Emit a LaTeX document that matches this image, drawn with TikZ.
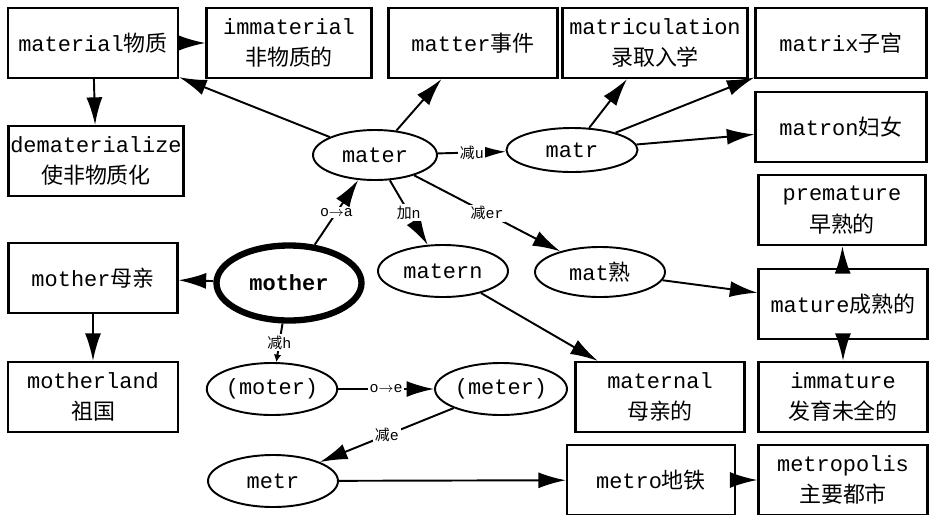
\documentclass[tikz,border=0pt]{standalone}
\usepackage{fontspec}
\setmonofont{Liberation Mono}
\newfontfamily\cjk{Noto Sans CJK SC}
\usetikzlibrary{shapes.geometric,arrows.meta}
\newcommand{\zh}[1]{{\cjk #1}}

\begin{document}
\begin{tikzpicture}[x=0.2mm,y=-0.2mm,
    font=\ttfamily\fontsize{12.5}{18}\selectfont]
  \tikzstyle{box}=[draw, line width=1.3pt, minimum height=14mm,
    inner sep=0pt, align=center]
  \tikzstyle{word}=[draw, ellipse, line width=1.1pt, inner sep=0pt]
  \tikzstyle{arr}=[-{Latex[length=5.5mm,width=3.2mm]}, line width=1.1pt]
  \tikzstyle{lab}=[fill=white, inner sep=1pt,
    font=\ttfamily\fontsize{8.5}{10}\selectfont]
  \useasboundingbox (0,0) rectangle (930,514);
  % boxes
  \foreach \n/\x/\y/\w/\t in {
      material/93/43/170/{material\zh{物质}},
      immat/289/43/165/{immaterial\\\zh{非物质的}},
      matter/473/43/169/{matter\zh{事件}},
      matric/655/43/185/{matriculation\\\zh{录取入学}},
      matrix/841/43/171/{matrix\zh{子宫}},
      matron/841/127/171/{matron\zh{妇女}},
      premat/842/210/167/{premature\\\zh{早熟的}},
      mature/843/304/169/{mature\zh{成熟的}},
      immatu/843/397/169/{immature\\\zh{发育未全的}},
      metropolis/843/480/169/{metropolis\\\zh{主要都市}},
      metro/651/480/168/{metro\zh{地铁}},
      maternal/660/397/169/{maternal\\\zh{母亲的}},
      demat/96/161/175/{dematerialize\\\zh{使非物质化}},
      motherbox/93/278/169/{mother\zh{母亲}},
      motherland/93/397/170/{motherland\\\zh{祖国}}}
    \node[box, minimum width=\w*0.2mm] (\n) at (\x,\y) {\t};
  % words
  \foreach \n/\x/\y/\w/\h/\t in {
      mater/375/155/124/50/{mater},
      matr/572/150/131/44/{matr},
      matern/443/271/130/52/{matern},
      mat/600/272/130/50/{mat\zh{熟}},
      moter/272/389/128/52/{(moter)},
      meter/501/389/132/52/{(meter)},
      metr/273/481/130/52/{metr}}
    \node[word, minimum width=\w*0.2mm, minimum height=\h*0.2mm]
      (\n) at (\x,\y) {\t};
  \node[word, line width=3.6pt, minimum width=29mm, minimum height=15mm,
    font=\ttfamily\bfseries\fontsize{12.5}{15}\selectfont]
    (mother) at (289,283) {mother};
  % links
  \foreach \f/\t in {mater/material, material/immat, material/demat,
      mater/matter, matr/matric, matr/matrix, matr/matron,
      mother/motherbox, motherbox/motherland, matern/maternal,
      mat/mature, mature/premat, mature/immatu, metr/metro,
      metro/metropolis}
    \draw[arr] (\f) -- (\t);
  \foreach \f/\t/\l in {mother/mater/{o$\rightarrow$a},
      mater/matern/{\zh{加}n}, mater/matr/{\zh{减}u},
      mater/mat/{\zh{减}er}, moter/meter/{o$\rightarrow$e},
      meter/metr/{\zh{减}e}}
    \draw[arr] (\f) -- node[lab] {\l} (\t);
  \draw[line width=1.1pt, -{Latex[length=1.5mm,width=1.5mm]}]
    (mother) -- node[lab] {\zh{减}h} (moter);
\end{tikzpicture}
\end{document}
